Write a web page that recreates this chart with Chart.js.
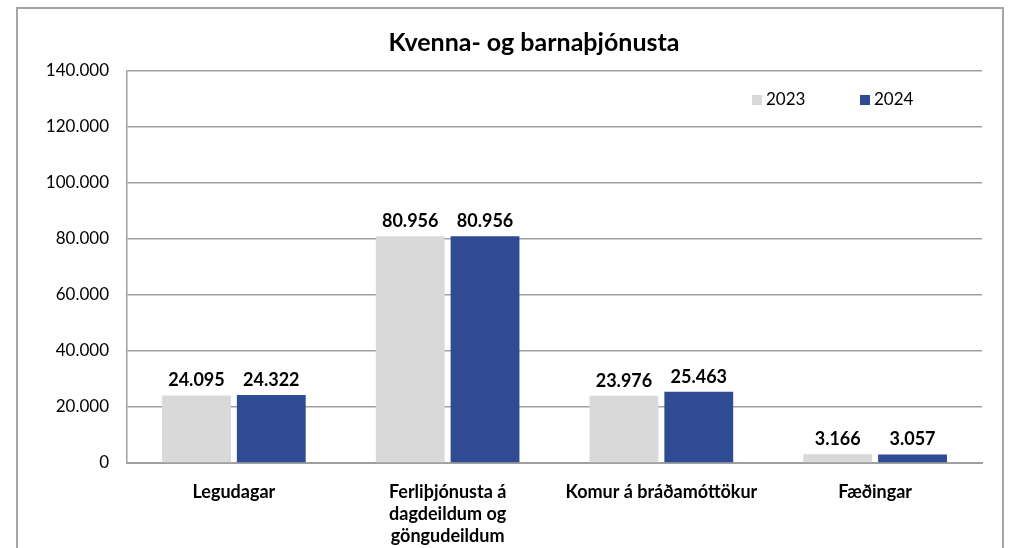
<!DOCTYPE html>
<html>
<head>
<meta charset="utf-8">
<script src="https://cdn.jsdelivr.net/npm/chart.js@4/dist/chart.umd.min.js"></script>
<style>
html,body{margin:0;padding:0;background:#fff;overflow:hidden;}
#frame{position:absolute;left:16px;top:7px;width:988px;height:600px;border:2px solid #a6a6a6;box-sizing:border-box;}
#wrap{position:absolute;left:0;top:0;width:1013px;height:548px;}
</style>
</head>
<body>
<div id="frame"></div>
<div id="wrap"><canvas id="c"></canvas></div>
<script>
const chartTitle = "Kvenna- og barnaþjónusta";
const categories = [
  "Legudagar",
  ["Ferliþjónusta á","dagdeildum og","göngudeildum"],
  "Komur á bráðamóttökur",
  "Fæðingar"
];
const seriesNames = ["2023","2024"];
const values2023 = [24095, 80956, 23976, 3166];
const values2024 = [24322, 80956, 25463, 3057];
const yMax = 140000;
const yStep = 20000;

const FONT = "Lato, 'Open Sans', sans-serif";

function fmt(n){
  return String(Math.round(n)).replace(/\B(?=(\d{3})+(?!\d))/g, ".");
}

/* titill, gildi og skýringar */
const extras = {
  id:"extras",
  afterDatasetsDraw(chart){
    const ctx = chart.ctx;
    ctx.save();
    ctx.fillStyle = "#000";
    ctx.textAlign = "center";
    ctx.textBaseline = "bottom";
    ctx.font = "bold 18px " + FONT;
    chart.data.datasets.forEach((ds,i)=>{
      const meta = chart.getDatasetMeta(i);
      meta.data.forEach((bar,j)=>{
        ctx.fillText(fmt(ds.data[j]), bar.x, bar.y - 6);
      });
    });

    // titill
    ctx.font = "bold 25px " + FONT;
    ctx.textBaseline = "middle";
    ctx.fillText(chartTitle, 534, 43);

    // skýringar
    ctx.font = "17px " + FONT;
    ctx.textAlign = "left";
    const lx = [752, 860];
    chart.data.datasets.forEach((ds,i)=>{
      ctx.fillStyle = ds.backgroundColor;
      ctx.fillRect(lx[i], 95, 10, 10);
      ctx.fillStyle = "#000";
      ctx.fillText(ds.label, lx[i] + 14, 100);
    });
    ctx.restore();
  }
};

new Chart(document.getElementById("c"),{
  type:"bar",
  data:{
    labels:categories,
    datasets:[
      {label:seriesNames[0], data:values2023, backgroundColor:"#d9d9d9"},
      {label:seriesNames[1], data:values2024, backgroundColor:"#2e4b94"}
    ]
  },
  options:{
    responsive:true,
    maintainAspectRatio:false,
    animation:false,
    layout:{padding:{top:71,right:31,left:0,bottom:0}},
    datasets:{bar:{categoryPercentage:0.7, barPercentage:0.92}},
    plugins:{legend:{display:false}, title:{display:false}, tooltip:{enabled:false}},
    scales:{
      x:{
        grid:{display:false, drawTicks:false},
        border:{display:true, color:"#a0a0a0", width:2},
        ticks:{color:"#000", font:{family:FONT, size:18, weight:"bold", lineHeight:1.22}, padding:18, maxRotation:0, autoSkip:false},
        afterFit(s){ s.height = 85; }
      },
      y:{
        min:0, max:yMax,
        grid:{color:"#a0a0a0", lineWidth:1.5, drawTicks:false},
        border:{display:true, color:"#a0a0a0", width:1.5},
        ticks:{stepSize:yStep, color:"#000", font:{family:FONT, size:17}, padding:18, callback:v=>fmt(v)},
        afterFit(s){ s.width = 127; }
      }
    }
  },
  plugins:[extras]
});
</script>
</body>
</html>
